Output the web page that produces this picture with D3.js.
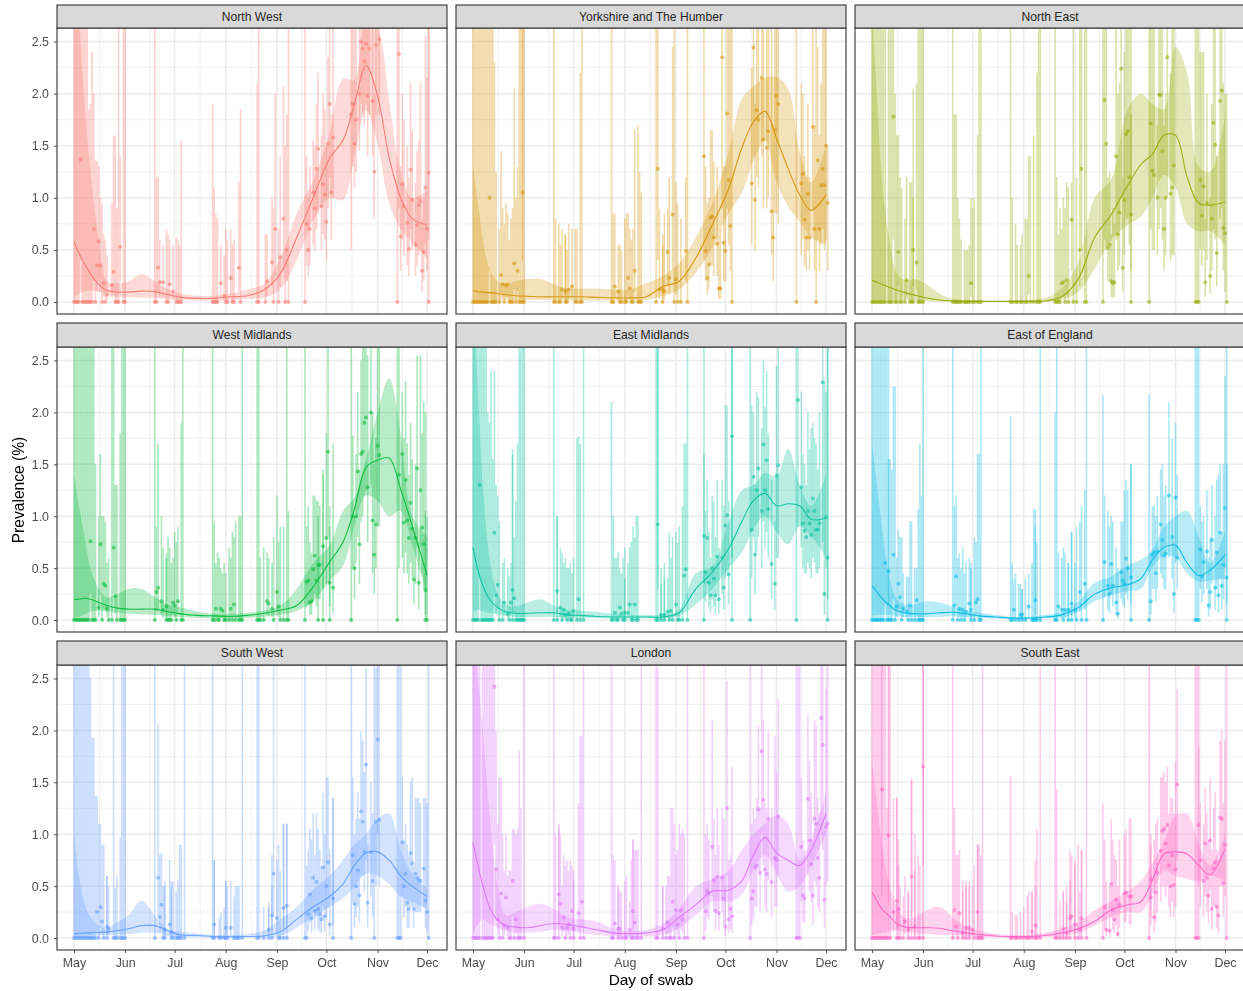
<!DOCTYPE html>
<html><head><meta charset="utf-8">
<script src="https://cdn.jsdelivr.net/npm/d3@7"></script>
<style>html,body{margin:0;background:#fff}svg{display:block;font-family:"Liberation Sans",Arial,sans-serif;filter:blur(.35px)}</style>
</head><body><svg id="c" width="1243" height="991"></svg>
<script>
const regionNames=["North West","Yorkshire and The Humber","North East","West Midlands","East Midlands","East of England","South West","London","South East"];
const regionColors=["#F8766D","#D39200","#93AA00","#00BA38","#00C19F","#00B9E3","#619CFF","#DB72FB","#FF61C3"];
const monthDays=[0,31,61,92,123,153,184,214];
const monthLabels=["May","Jun","Jul","Aug","Sep","Oct","Nov","Dec"];
const minorDays=[15.5,46,76.5,107.5,138,168.5,199];
const yTicks=[0,0.5,1,1.5,2,2.5];
const yMinor=[0.25,0.75,1.25,1.75,2.25];
const knotDays=[0,3,6,10,15,20,26,33,41,49,57,65,75,85,95,105,115,125,135,145,155,163,170,177,184,191,198,205,214];

const nwMean=[.58,.47,.38,.27,.17,.11,.095,.095,.105,.1,.07,.045,.035,.035,.05,.06,.115,.27,.62,1,1.38,1.55,1.9,2.27,1.98,1.39,1,.8,.74];
const nwUp=[3.2,2.7,2,1.25,.6,.2,.18,.2,.27,.2,.12,.08,.06,.06,.08,.12,.17,.42,.85,1.17,1.62,2.14,2.13,2.7,2.62,1.94,1.25,1,1.07];
const nwLow=[.05,.08,.1,.11,.1,.07,.05,.045,.04,.04,.025,.02,.015,.015,.02,.03,.04,.12,.4,.78,1,.98,1.4,1.84,1.52,.95,.7,.57,.42];
const yhMean=[.11,.1,.095,.09,.08,.07,.06,.055,.05,.05,.05,.05,.045,.04,.04,.05,.15,.2,.42,.74,1.09,1.48,1.73,1.83,1.57,1.28,1.03,.88,1.03];
const yhUp=[1.3,.95,.6,.32,.2,.17,.2,.22,.22,.17,.13,.13,.13,.12,.12,.18,.25,.37,.62,.95,1.44,1.95,2.07,2.15,2.16,2.05,1.45,1.15,1.5];
const yhLow=[.02,.02,.02,.02,.02,.02,.02,.02,.02,.02,.015,.015,.015,.015,.015,.02,.06,.12,.28,.52,.85,1.05,1.35,1.55,1.15,.92,.77,.62,.55];
const neMean=[.21,.19,.17,.145,.115,.09,.065,.04,.02,.01,.005,.005,.005,.005,.005,.01,.05,.22,.62,.84,1.12,1.32,1.42,1.6,1.6,1.2,.95,.93,.96];
const neUp=[2.8,2,1.2,.65,.28,.21,.22,.17,.08,.03,.02,.02,.02,.02,.02,.04,.13,.38,1,1.18,1.85,2,1.9,1.85,2.45,2.2,1.3,1.25,1.8];
const neLow=[.02,.02,.02,.02,.02,.02,.015,.01,.005,.002,.002,.002,.002,.002,.002,.003,.02,.1,.32,.6,.74,.82,1,1.22,1.1,.75,.68,.68,.55];
const wmMean=[.2,.2,.21,.2,.17,.14,.115,.105,.105,.105,.08,.06,.045,.04,.035,.045,.065,.095,.14,.32,.56,.75,1.07,1.47,1.54,1.56,1.26,.91,.43];
const wmUp=[1.4,1.1,.85,.5,.3,.22,.25,.3,.3,.22,.15,.12,.08,.06,.06,.07,.09,.14,.3,.55,.72,1.05,1.18,1.55,2,2.33,1.8,1,.8];
const wmLow=[.02,.03,.05,.08,.09,.08,.07,.06,.055,.05,.04,.03,.02,.015,.015,.02,.03,.05,.09,.18,.38,.52,.9,1.2,1.15,1,1.05,.72,.25];
const emMean=[.7,.48,.33,.2,.12,.08,.065,.065,.07,.07,.05,.045,.035,.03,.03,.03,.03,.07,.3,.46,.69,.95,1.15,1.22,1.1,1.12,1.1,.97,.98];
const emUp=[3.2,2.2,1.3,.6,.25,.15,.13,.17,.2,.14,.1,.09,.08,.06,.05,.05,.05,.1,.45,.51,.95,1.25,1.3,1.42,1.38,1.65,1.3,1.1,1.4];
const emLow=[.08,.1,.08,.07,.05,.04,.03,.03,.03,.03,.02,.02,.02,.015,.015,.015,.015,.04,.15,.3,.5,.65,.88,1,.85,.73,.9,.81,.6];
const eeMean=[.33,.27,.21,.15,.09,.07,.06,.06,.07,.075,.06,.04,.03,.02,.02,.03,.05,.12,.25,.31,.34,.4,.58,.7,.72,.55,.43,.48,.63];
const eeUp=[1.7,1.3,.9,.45,.2,.15,.15,.18,.17,.13,.09,.07,.05,.03,.03,.05,.08,.18,.36,.42,.53,.58,.68,.9,1,1.05,.8,.55,.85];
const eeLow=[.04,.05,.05,.05,.04,.03,.03,.03,.03,.04,.03,.02,.015,.01,.01,.015,.02,.08,.18,.24,.28,.3,.51,.62,.6,.45,.37,.38,.4];
const swMean=[.04,.045,.05,.05,.055,.06,.07,.09,.12,.12,.07,.03,.025,.015,.012,.015,.02,.06,.18,.3,.4,.52,.7,.82,.83,.75,.6,.5,.4];
const swUp=[1,.6,.35,.2,.12,.1,.15,.22,.36,.22,.08,.06,.045,.03,.03,.04,.07,.18,.3,.47,.6,.75,.9,1,1.15,1.2,.85,.62,.48];
const swLow=[.01,.012,.015,.02,.025,.03,.035,.04,.05,.05,.02,.01,.008,.005,.004,.005,.01,.02,.1,.2,.3,.38,.5,.62,.6,.52,.4,.35,.28];
const lnMean=[.92,.7,.5,.3,.17,.12,.105,.1,.12,.14,.13,.11,.08,.05,.04,.05,.08,.2,.32,.45,.46,.55,.8,.97,.82,.75,.7,.85,1.2];
const lnUp=[2.9,2.5,2,1.2,.5,.22,.25,.3,.33,.28,.2,.18,.16,.09,.07,.08,.14,.28,.5,.57,.65,.85,1,1.1,1.18,1.1,.75,.95,1.4];
const lnLow=[.05,.13,.18,.14,.1,.07,.05,.05,.06,.08,.07,.05,.03,.02,.01,.015,.03,.1,.22,.35,.35,.42,.65,.8,.62,.45,.5,.7,1];
const seMean=[.44,.36,.28,.22,.14,.105,.1,.1,.095,.07,.05,.035,.02,.015,.015,.025,.05,.09,.16,.27,.32,.35,.56,.81,.83,.81,.7,.61,.86];
const seUp=[1.7,1.3,.9,.55,.3,.2,.2,.27,.3,.2,.11,.07,.04,.03,.03,.05,.09,.15,.27,.36,.45,.55,.72,.93,1.18,1.2,.9,.7,1];
const seLow=[.03,.04,.05,.06,.07,.06,.05,.04,.03,.03,.02,.01,.005,.005,.005,.01,.02,.05,.12,.2,.25,.25,.42,.65,.6,.57,.55,.6,.55];

// zero-prevalence days: [day, upper]; 3 runs off the top of the panel
const nwZero=[[0,3],[1,3],[2,3],[3,3],[5,3],[6,3],[7,3],[8,3],[9,1.85],[10,1.9],[11,2.4],[13,1.36],[17,.95],[19,.6],[25,1.6],[26,.9],[27,3],[30,3],[31,3],[49,3],[50,1.2],[56,.7],[57,.65],[62,.62],[63,.6],[64,.55],[65,1.55],[84,1.9],[85,1.1],[86,.85],[87,.8],[92,.7],[93,.6],[96,.55],[97,.6],[101,1.85],[111,2.1],[112,3],[116,.65],[121,.9],[124,.7],[128,1.5],[130,3],[140,3],[196,3],[215,3]];
const nwPos=[[4,1.37,.4,3],[12,.7,.2,2],[14,.35,.1,1.35],[15,.58,.2,1.3],[16,.35,.1,1],[18,.18,.05,.65],[20,.07,.02,.45],[23,.16,.04,.95],[24,.29,.08,1.6],[28,.53,.2,1.4],[51,.33,.1,1.2],[52,.19,.05,.6],[54,.19,.05,.55],[58,.17,.05,.6],[60,.1,.03,.55],[89,.18,.05,.55],[91,.06,.01,.45],[95,.23,.07,.7],[100,.33,.1,1.15],[117,.2,.06,.65],[120,.38,.15,1],[122,.7,.25,2],[125,.43,.15,1.4],[127,.8,.3,2.07],[129,.5,.2,1.8],[141,.75,.35,1.4],[142,.5,.25,1],[143,.7,.35,1.3],[145,1.05,.55,1.55],[146,.9,.5,1.5],[147,1.28,.7,1.9],[148,1.47,.85,2.2],[150,.92,.5,1.6],[151,1.13,.65,2],[152,1.03,.6,1.85],[153,.77,.4,1.5],[154,1.52,.9,2.35],[155,1.9,1.2,3],[156,1.05,.6,1.8],[157,1.58,1,3],[168,1.8,.5,3],[169,1.9,1.3,3],[170,1.52,1.1,2.7],[171,1.75,1.25,3],[173,2,1.45,3],[174,2.5,1.9,3],[175,2.43,1.8,3],[176,2.31,1.7,3],[177,2.48,1.9,3],[178,1.98,1.4,3],[179,2.43,1.8,3],[181,1.93,1.4,3],[182,1.25,.8,2],[183,2.47,1.8,3],[185,2.52,1.8,3],[197,2.38,.9,3],[198,.63,.3,1.3],[199,1.13,.6,2],[200,.92,.45,1.75],[202,.76,.35,1.5],[203,.51,.25,1.2],[204,1.27,.7,2.1],[205,.98,.5,1.65],[207,.55,.25,1.15],[208,.74,.35,1.45],[209,.93,.45,1.55],[210,.97,.5,2.1],[211,.3,.1,.8],[212,.48,.2,1],[213,1.1,.55,2.55],[214,.7,.3,2.15],[215,1.24,.6,3]];
const yhZero=[[0,3],[1,3],[2,3],[3,3],[4,3],[5,3],[6,3],[7,3],[8,3],[9,3],[11,3],[12,3],[13,2.3],[14,1.25],[16,.7],[19,.75],[22,.6],[23,.8],[24,.9],[26,1],[28,3],[29,3],[30,3],[31,3],[49,3],[50,.8],[52,.75],[53,.55],[56,.65],[57,.5],[62,.7],[63,.7],[65,2.2],[66,3],[84,3],[85,.85],[89,.55],[90,.5],[92,.8],[93,.85],[96,.6],[97,.7],[100,1.7],[101,1.25],[102,1.05],[111,3],[115,.65],[122,3],[124,.95],[126,.8],[130,3],[157,3],[196,3],[208,3]];
const yhPos=[[10,1,.3,3],[17,.26,.08,1.45],[18,.17,.05,.9],[20,.16,.05,.95],[21,.17,.05,.85],[25,.37,.12,2.05],[27,.3,.1,1.3],[30,1.05,.4,3],[54,.12,.03,.7],[56,.1,.03,.65],[58,.12,.03,.75],[60,.15,.04,.7],[86,.15,.04,.85],[88,.1,.02,.55],[94,.23,.06,.85],[95,.13,.03,.7],[98,.3,.1,1.65],[112,1.28,.4,3],[113,.12,.03,.9],[115,.12,.03,.55],[116,.1,.02,.85],[118,.48,.15,.9],[119,.23,.07,1.2],[121,.84,.3,2.45],[123,.22,.07,1.15],[129,.49,.2,1.2],[140,1.4,.4,3],[141,.49,.2,1.3],[142,.23,.07,.95],[143,.36,.12,1],[144,.81,.35,1.65],[145,.82,.35,1.65],[146,.62,.25,1.35],[148,.56,.25,1.3],[149,.13,.03,.65],[150,.13,.03,.7],[151,2.35,.9,3],[152,.57,.2,1.3],[153,.49,.2,1.3],[154,1.81,.9,3],[155,1.17,.55,3],[156,.73,.3,3],[169,1.14,.55,2.25],[170,2.44,1.4,3],[171,.98,.5,1.9],[172,1.84,1.2,3],[173,1.75,1.1,3],[175,2.15,1.4,3],[176,1.56,.9,3],[178,1.48,.9,3],[179,1.64,1,3],[181,.87,.45,2.7],[182,.62,.2,1.7],[183,1.65,.85,3],[184,1.98,.85,3],[185,1.9,.75,3],[199,1.14,.45,2.1],[200,1.23,.6,2],[201,.79,.35,1.4],[202,.62,.3,1.2],[203,1.04,.5,1.9],[204,.62,.3,1.2],[206,1.68,.9,3],[207,.7,.3,1.7],[209,1.36,.6,2.45],[210,.7,.3,1.6],[211,1.12,.55,2.1],[212,1.28,.7,3],[213,1.12,.5,3],[214,1.5,.6,3],[215,.95,.3,1.5]];
const neZero=[[0,3],[1,3],[2,3],[3,3],[4,3],[5,3],[6,3],[7,3],[8,3],[10,3],[11,3],[12,3],[14,2],[15,1.6],[17,1.2],[18,1.1],[20,.8],[23,1.15],[24,1.15],[25,2.05],[28,3],[29,3],[30,3],[31,3],[49,3],[50,1.8],[51,1.8],[52,1],[53,.8],[54,.6],[56,.5],[57,.5],[58,.5],[59,.55],[61,.9],[62,1],[64,1.6],[65,3],[66,3],[84,3],[85,1],[87,.75],[88,.55],[90,.55],[91,.65],[93,.8],[94,.8],[96,1.4],[98,1.6],[100,2.2],[101,3],[102,3],[111,3],[112,1.2],[113,.65],[114,.9],[117,.9],[119,1.1],[122,3],[124,1.2],[129,3],[130,3],[140,3],[157,3],[168,3],[196,3],[197,3],[198,3],[215,2]];
const nePos=[[13,1.78,.6,3],[16,.48,.15,1.6],[21,.21,.05,1.2],[25,.5,.15,1],[27,.38,.12,2.1],[60,.18,.05,1],[95,.25,.07,1.4],[115,.18,.05,.7],[116,.19,.05,1],[118,.21,.06,1.15],[121,.79,.3,1.15],[126,.5,.15,2.8],[127,1.28,.5,3],[141,1.94,.6,3],[142,1.52,.5,3],[143,.52,.2,1.2],[144,.55,.2,1.25],[145,.2,.05,.65],[146,.18,.04,.9],[147,.19,.05,.75],[148,1.4,.6,3],[149,.65,.3,2],[150,.86,.35,2.1],[151,2.24,1,3],[152,.33,.1,1.2],[153,.98,.45,2.4],[154,1.61,.8,3],[155,1.64,.8,3],[156,1.2,.55,3],[157,.84,.3,1.8],[169,1.71,.7,3],[170,1.26,.5,3],[171,1.22,.5,3],[173,1,.45,1.7],[174,1.99,.7,3],[175,1.99,.9,3],[176,1.45,.6,2.8],[177,.7,.3,1.7],[178,1,.45,2],[179,2.35,1,3],[181,1.04,.4,2.2],[182,1.1,.45,3],[183,1.31,.45,3],[199,1.17,.5,2.4],[200,.83,.35,2.4],[201,1.11,.5,2.4],[202,.19,.05,.8],[203,.95,.4,2],[205,.25,.08,1],[206,.8,.3,1.9],[207,1.72,.7,3],[208,1.51,.6,3],[209,.47,.15,1.4],[211,1.93,.8,3],[212,2.03,.9,3],[213,.71,.3,2.1],[214,.66,.1,2]];
const wmZero=[[0,3],[1,3],[2,3],[3,3],[4,3],[5,3],[6,3],[7,3],[8,3],[9,3],[11,3],[12,3],[13,1.5],[17,1],[21,.6],[23,2.65],[26,1.3],[28,1.8],[29,3],[30,3],[31,3],[49,3],[56,.65],[57,.8],[58,.7],[59,.55],[62,.75],[65,1.9],[66,3],[84,3],[85,.95],[87,.65],[88,.6],[91,.55],[92,.45],[94,.7],[96,.85],[98,.95],[100,1],[101,1],[102,3],[111,3],[112,3],[113,.6],[115,.7],[121,.8],[125,.9],[127,.9],[129,3],[130,1.05],[140,3],[148,1],[151,1.4],[155,1.1],[168,3],[196,3],[213,2],[214,1]];
const wmPos=[[10,.76,.25,3],[15,.12,.03,1],[16,.73,.25,1.6],[18,.35,.1,1],[19,.33,.1,.95],[20,.11,.03,.55],[24,.7,.25,3],[25,.23,.06,1.3],[50,.27,.08,.9],[51,.31,.1,1.7],[53,.18,.05,1],[54,.1,.02,.7],[56,.13,.03,.6],[60,.17,.05,.6],[61,.14,.03,.85],[63,.18,.05,.9],[86,.11,.02,.55],[89,.11,.02,.5],[90,.09,.02,.45],[95,.11,.02,.6],[97,.15,.04,.8],[117,.18,.05,.65],[118,.16,.04,.6],[120,.11,.03,.55],[123,.27,.08,1.2],[124,.13,.03,.75],[141,.37,.12,.9],[142,.38,.14,1.1],[143,.17,.05,.75],[144,.18,.05,.65],[145,.49,.18,1.2],[146,.62,.25,1.2],[147,.38,.13,1.15],[148,.53,.2,1.15],[149,.53,.2,1.1],[151,.71,.3,1.45],[153,.79,.35,1.8],[154,1.62,.8,3],[155,.36,.13,.9],[157,.31,.07,1.7],[169,1,.5,1.78],[170,.5,.2,1],[171,1,.55,1.6],[172,1.43,.8,2.2],[173,.73,.35,1.45],[174,1.6,.95,2.5],[175,1.62,1,3],[176,1.9,1.2,3],[177,1.95,1.25,3],[178,1.28,.75,2.55],[180,2,1.3,3],[181,.96,.45,2],[182,.63,.25,1.5],[183,.92,.5,1.75],[184,1.68,.9,3],[185,1.59,.9,3],[197,1.4,.5,3],[199,1.6,.6,2.2],[200,.94,.45,1.75],[201,1.35,.65,2.3],[202,.96,.45,1.7],[203,.79,.35,1.4],[204,1.13,.55,1.9],[205,.88,.4,1.55],[206,.39,.15,.85],[207,.79,.35,1.5],[208,1.46,.7,2.55],[209,.36,.1,.75],[210,1.25,.7,2.55],[211,.89,.45,1.8],[212,.73,.3,2.1],[213,.29,.05,1.05]];
const emZero=[[0,3],[1,3],[2,3],[3,3],[5,3],[6,3],[7,3],[8,3],[9,2],[10,1.9],[11,2.4],[12,1.55],[16,.95],[18,.55],[22,.42],[24,1.65],[26,1.15],[27,1.7],[28,3],[29,3],[30,3],[31,3],[49,3],[51,1],[54,.65],[57,.5],[59,.55],[60,.45],[63,1.75],[65,1.7],[67,3],[84,2.1],[85,1],[87,.6],[88,.65],[91,.6],[92,.7],[96,.75],[97,.9],[99,1],[100,1],[111,3],[112,3],[114,.5],[116,.55],[119,.85],[121,.8],[124,.75],[125,.9],[127,1.1],[130,3],[140,3],[157,3],[168,3],[196,3],[215,3]];
const emPos=[[4,1.3,.4,3],[13,.84,.25,2.4],[14,.24,.06,1.3],[15,.34,.1,1.2],[19,.17,.05,.6],[21,.06,.01,.5],[23,.17,.05,.55],[24,.29,.08,1.6],[25,.21,.06,.8],[51,.28,.08,1],[53,.12,.03,.7],[55,.1,.02,.55],[56,.05,.01,.6],[58,.06,.01,.5],[61,.09,.02,.6],[64,.2,.06,1.77],[86,.07,.01,.6],[89,.12,.03,.5],[90,.06,.01,.45],[92,.07,.02,.4],[94,.07,.02,.55],[95,.15,.04,.7],[98,.15,.04,.8],[112,.92,.3,3],[114,.05,.01,.35],[116,.05,.01,.4],[118,.08,.02,.4],[120,.09,.02,.6],[123,.15,.04,.85],[128,.43,.15,1.7],[129,.49,.2,1.7],[141,.46,.18,1.05],[140,.81,.35,1.6],[142,.79,.35,1.35],[143,.36,.12,.85],[144,.24,.07,.6],[145,.5,.2,1.2],[146,.4,.13,1.15],[147,.24,.06,.8],[148,.61,.25,1.35],[149,.2,.06,.7],[151,.6,.25,1.35],[152,.31,.1,1.1],[153,.91,.4,2.07],[154,1.01,.45,2.07],[155,.44,.15,1.15],[157,1.77,.6,3],[169,.87,.4,2.07],[170,1.38,.8,2],[171,.63,.25,1.3],[172,1.25,.65,2.2],[173,1.46,.8,2.15],[175,1.05,.5,1.85],[176,1.69,.95,2.5],[177,1.25,.7,2.05],[178,1.54,.85,2.4],[179,1.07,.6,1.8],[181,.54,.2,1.35],[183,.35,.1,.95],[184,1.39,.6,2.45],[185,1.49,.6,3],[197,2.12,.9,3],[199,1.28,.7,2.2],[200,.93,.5,1.6],[201,.86,.45,1.5],[202,.8,.45,1.3],[203,1.05,.55,2],[204,.93,.5,1.65],[205,.82,.4,1.85],[206,1.17,.6,1.9],[207,1.05,.55,1.75],[208,.87,.45,1.7],[209,.87,.45,1.45],[210,.93,.5,2],[212,2.29,.75,3],[213,.25,.05,2.3],[214,.99,.5,2.2],[215,.6,.2,3]];
const eeZero=[[0,3],[1,3],[2,3],[3,3],[4,3],[5,3],[6,3],[7,3],[9,3],[10,3],[11,1.55],[12,1.45],[14,2.25],[18,.8],[22,.42],[24,.95],[26,.5],[28,1.07],[29,1.7],[30,1.2],[31,3],[49,3],[52,.6],[54,.5],[56,.45],[60,.55],[62,.8],[65,1.6],[66,3],[84,1.97],[85,.55],[87,.45],[89,.35],[91,.3],[93,.4],[97,.55],[98,1.07],[99,.9],[100,.75],[102,3],[111,2],[112,3],[116,.7],[119,.55],[121,.85],[124,.9],[127,1.1],[130,3],[140,2.17],[157,1.5],[168,2.17],[196,3],[197,3],[198,3],[215,3]];
const eePos=[[8,.55,.15,3],[10,.47,.15,1.55],[13,.63,.2,2.25],[15,.13,.03,.6],[16,.35,.1,.87],[17,.22,.05,.8],[19,.11,.03,.45],[21,.08,.02,.42],[23,.14,.03,.95],[27,.19,.05,.5],[50,.14,.03,1.1],[51,.42,.13,1.2],[53,.11,.03,.65],[55,.1,.02,.7],[57,.08,.02,.55],[59,.16,.04,.6],[60,.1,.02,.5],[63,.17,.04,.75],[64,.2,.06,1.6],[86,.1,.02,.4],[90,.05,.01,.35],[91,.05,.01,.3],[95,.13,.03,.45],[99,.19,.05,1.07],[113,.13,.03,.65],[115,.1,.02,.6],[117,.1,.02,.65],[119,.1,.02,.55],[121,.16,.04,.85],[123,.1,.02,.55],[126,.27,.08,.95],[129,.35,.1,1.25],[141,.56,.22,1.2],[143,.33,.1,1.05],[144,.25,.07,.9],[145,.54,.25,1],[146,.33,.13,.95],[148,.17,.05,.7],[149,.06,.01,.5],[151,.46,.2,.95],[152,.38,.15,.95],[153,.35,.12,1.25],[154,.59,.25,1.35],[155,.5,.2,1.25],[157,.41,.15,1.5],[169,.18,.05,.65],[170,.63,.3,1.1],[171,.65,.3,1.1],[172,.45,.18,1],[173,.66,.3,1.2],[175,.92,.45,1.45],[176,.77,.4,1.5],[177,.62,.3,1.2],[178,.64,.3,1.3],[180,1.2,.6,2.1],[182,.8,.4,1.75],[183,.25,.07,.75],[184,1.18,.55,1.9],[185,.6,.3,1.4],[199,.68,.3,1.1],[200,.42,.17,.95],[201,.56,.25,1],[203,.66,.3,1.25],[204,.14,.03,.6],[205,.27,.1,.8],[206,.77,.35,1.3],[208,.31,.1,1],[209,.65,.3,1.35],[210,.24,.07,1.4],[211,.84,.4,1.5],[212,.33,.1,.85],[213,.53,.2,1.5],[214,1.08,.5,2.35],[215,.41,.15,1.5]];
const swZero=[[0,3],[1,3],[2,3],[3,3],[4,3],[5,3],[6,3],[7,3],[8,3],[9,3],[10,2.5],[11,1.93],[12,1.93],[13,1.37],[15,1.1],[18,.9],[20,.6],[24,3],[25,.48],[26,.6],[28,.97],[29,3],[30,3],[31,3],[49,3],[54,.5],[55,.5],[59,.55],[60,.55],[62,.45],[63,.55],[64,.9],[65,.9],[67,3],[84,3],[85,.75],[88,.2],[89,.25],[91,.3],[92,.55],[93,.5],[97,.4],[98,.5],[99,.5],[100,.5],[102,3],[111,3],[112,3],[115,.3],[118,.3],[120,.5],[124,.9],[125,.65],[127,1.1],[129,1.1],[140,3],[141,.7],[157,1.35],[168,3],[182,3],[196,3],[197,3],[198,3],[215,3]];
const swPos=[[14,.25,.07,1.37],[16,.3,.1,1.1],[17,.16,.04,.9],[20,.11,.03,.6],[21,.09,.02,.5],[51,.58,.2,2.07],[52,.2,.06,.8],[53,.32,.1,.82],[55,.08,.02,.55],[58,.13,.03,.75],[59,.06,.01,.5],[85,.13,.03,.75],[92,.1,.03,.55],[95,.1,.03,.55],[118,.08,.02,.35],[120,.22,.07,.8],[121,.62,.2,3],[123,.19,.05,.75],[127,.29,.08,1.1],[129,.31,.1,1.1],[142,.23,.07,.85],[143,.42,.15,1.05],[144,.19,.05,.95],[145,.58,.25,1.2],[146,.26,.08,.8],[147,.54,.2,1.2],[148,.28,.08,1.05],[149,.23,.06,.85],[150,.18,.05,.7],[151,.68,.3,1.4],[152,.21,.06,1],[153,.5,.2,1.55],[154,.73,.3,1.55],[155,.13,.03,.85],[157,.38,.12,1.35],[169,.8,.35,1.55],[170,.33,.1,1],[171,.5,.2,1.15],[172,.65,.3,1.4],[173,.41,.15,1.15],[174,1.22,.6,2],[175,1.12,.6,1.9],[176,.83,.45,1.6],[177,1.67,.75,2.6],[178,.34,.1,.9],[180,.83,.4,1.5],[181,.55,.2,1.2],[183,1.12,.5,2.6],[184,1.91,1,3],[185,1.14,.5,3],[199,.92,.4,1.55],[200,.5,.2,.95],[201,.62,.3,1.1],[202,.34,.1,.9],[203,.28,.1,.8],[204,.82,.3,1.5],[205,.72,.3,1.55],[206,.28,.1,.7],[207,.62,.25,1.35],[208,.58,.25,1.35],[209,.56,.25,1.35],[210,.55,.25,1.3],[212,.67,.3,1.35],[213,.36,.1,1.35],[214,.25,.05,1.3]];
const lnZero=[[0,3],[1,3],[2,3],[3,3],[4,3],[6,3],[7,3],[8,3],[9,3],[10,3],[11,3],[12,3],[16,1.55],[18,1],[22,.65],[23,.65],[25,1.05],[27,1.05],[28,1.8],[29,1.25],[31,3],[49,3],[50,1],[52,1.1],[56,.7],[59,.75],[61,.65],[65,1.95],[67,3],[84,3],[85,.8],[88,.5],[90,.45],[92,.55],[93,.6],[96,.75],[97,.95],[99,.85],[100,.85],[102,3],[111,3],[112,2.6],[115,.5],[117,.5],[119,.6],[120,1.25],[122,1.1],[125,1.1],[128,1],[130,3],[140,3],[168,3],[196,3],[197,3],[198,3]];
const lnPos=[[13,2.42,.9,3],[14,.66,.2,2],[15,.18,.04,1.1],[17,.43,.13,1.55],[19,.12,.03,.65],[20,.39,.13,1],[21,.1,.02,.6],[24,.55,.2,1.05],[26,.18,.05,1],[52,.42,.13,1.07],[53,.33,.1,1],[54,.1,.02,.5],[55,.2,.06,.8],[57,.1,.02,.75],[58,.13,.03,.65],[60,.26,.08,.7],[61,.09,.02,.55],[64,.24,.07,1.3],[66,.35,.1,1.95],[86,.14,.03,.75],[88,.09,.02,.5],[89,.09,.02,.45],[95,.08,.02,.35],[97,.26,.08,.95],[98,.15,.04,.85],[115,.09,.02,.5],[118,.15,.04,.6],[121,.35,.1,1.25],[123,.27,.08,.8],[124,.13,.03,.85],[126,.27,.08,1],[127,.18,.05,1.05],[141,.26,.07,1],[142,.45,.2,1.1],[143,.43,.18,.95],[145,.88,.4,2.1],[146,.56,.25,1.15],[147,.26,.08,.8],[148,.59,.25,1.25],[149,.24,.07,.9],[151,.58,.25,1.25],[152,.38,.12,1.15],[153,.11,.02,.5],[154,1.25,.6,2.47],[155,.18,.05,.75],[156,.28,.08,.8],[157,.21,.05,1.65],[169,.38,.12,1.1],[170,.45,.18,1.25],[171,.68,.3,1.15],[172,.7,.3,1.35],[173,1.24,.65,2.05],[174,.63,.25,1.25],[175,1.8,1,3],[176,1.33,.7,2.1],[177,.66,.3,1.3],[178,.62,.25,1.25],[179,1.15,.55,2.0],[181,.54,.2,1.25],[183,.77,.3,1.95],[184,.75,.3,1.6],[185,1.17,.6,2.3],[199,.88,.35,1.55],[200,.41,.15,.95],[201,.38,.15,.85],[203,1.34,.6,2.15],[204,.94,.45,1.7],[205,.71,.35,1.4],[206,.41,.12,.95],[207,1.15,.55,2.1],[208,1.1,.5,2.05],[209,.77,.3,1.35],[210,.58,.25,1.2],[211,2.12,1,3],[212,1.86,.85,3],[213,.37,.1,1.05],[214,1.07,.5,2.4],[215,1.1,.55,2.7]];
const seZero=[[0,3],[1,3],[2,3],[3,3],[4,3],[5,3],[6,3],[7,3],[8,3],[9,1.25],[10,3],[11,3],[15,1.35],[16,.7],[17,.5],[19,.4],[22,.45],[24,1.53],[26,1],[28,.8],[29,.7],[31,3],[49,3],[52,.8],[55,.55],[57,.55],[59,.5],[62,.7],[64,.9],[65,.9],[66,.8],[67,3],[84,1.56],[85,.25],[87,.22],[88,.22],[90,.25],[92,.3],[94,.4],[95,.45],[97,.45],[99,.5],[100,1.05],[102,3],[111,3],[112,1.43],[114,.35],[116,.45],[118,.5],[120,.55],[123,.75],[125,.9],[127,.85],[130,3],[140,1.3],[168,3],[196,3],[197,3],[198,3],[215,3]];
const sePos=[[6,1.43,.4,3],[10,.99,.35,3],[13,.25,.07,1.35],[15,.36,.1,1.35],[16,.28,.08,.95],[20,.16,.04,.6],[22,.08,.02,.45],[24,.59,.2,1.53],[26,.11,.02,.65],[31,1.65,.7,3],[50,.27,.08,1.25],[51,.11,.03,.8],[53,.24,.07,.85],[55,.05,.01,.45],[57,.1,.02,.5],[59,.1,.02,.55],[61,.08,.02,.5],[64,.25,.07,.9],[99,.12,.03,.75],[97,.06,.01,.45],[116,.09,.02,.45],[118,.05,.01,.35],[120,.19,.06,.85],[121,.21,.06,.8],[123,.13,.03,.7],[126,.08,.02,.45],[127,.19,.05,.85],[141,.3,.08,.95],[142,.08,.02,.55],[144,.07,.01,.5],[145,.52,.2,1.15],[146,.27,.08,.95],[147,.18,.05,.8],[148,.37,.12,.75],[149,.04,.01,.5],[150,.32,.1,.95],[153,.43,.15,1],[154,.44,.15,1.05],[156,.4,.13,1.15],[157,.4,.13,1.15],[169,.39,.12,.9],[169,.57,.2,1],[171,.2,.05,.95],[172,.44,.15,1.1],[173,.63,.25,1.15],[175,.84,.35,1.55],[176,1.03,.5,1.55],[177,1.05,.5,1.6],[178,.91,.4,1.5],[179,1.09,.5,1.65],[180,.7,.3,1.2],[181,.5,.2,1.35],[182,.8,.35,1.35],[183,.51,.2,1.2],[184,.66,.3,1.7],[185,1.48,.75,2.4],[198,1.09,.5,1.85],[199,.75,.3,1.3],[201,.55,.2,1.1],[202,.91,.4,1.45],[203,.58,.25,1.2],[204,.41,.15,.95],[205,.94,.45,1.55],[206,.28,.08,.85],[207,.67,.3,1.25],[208,.73,.3,1.4],[209,.3,.1,.85],[210,.22,.05,.75],[211,1.16,.5,1.9],[212,1.15,.5,2],[213,.53,.2,1.3],[214,.9,.4,1.9]];

const allMean=[nwMean,yhMean,neMean,wmMean,emMean,eeMean,swMean,lnMean,seMean];
const allUp=[nwUp,yhUp,neUp,wmUp,emUp,eeUp,swUp,lnUp,seUp];
const allLow=[nwLow,yhLow,neLow,wmLow,emLow,eeLow,swLow,lnLow,seLow];
const allZero=[nwZero,yhZero,neZero,wmZero,emZero,eeZero,swZero,lnZero,seZero];
const allPos=[nwPos,yhPos,nePos,wmPos,emPos,eePos,swPos,lnPos,sePos];

const colLeft=[57,456,855], panelW=390;
const rowTop=[28,347,665], rowH=[286,285,285], stripH=[23,24,24];
const svg=d3.select("#c");
const defs=svg.append("defs");

regionNames.forEach((name,i)=>{
  const col=i%3,row=Math.floor(i/3);
  const L=colLeft[col],T=rowTop[row],H=rowH[row];
  const color=regionColors[i];
  const x=d3.scaleLinear().domain([-10.3,226.1]).range([L,L+panelW]);
  const y=d3.scaleLinear().domain([-0.115,2.63]).range([T+H,T]);
  const clipId="clip"+i;
  defs.append("clipPath").attr("id",clipId).append("rect").attr("x",L).attr("y",T).attr("width",panelW).attr("height",H);
  const g=svg.append("g");
  g.append("rect").attr("x",L).attr("y",T).attr("width",panelW).attr("height",H).attr("fill","#fff");
  // grid
  g.selectAll(".gmy").data(yMinor).join("line").attr("x1",L).attr("x2",L+panelW).attr("y1",y).attr("y2",y).attr("stroke","#f1f1f1").attr("stroke-width",1);
  g.selectAll(".gmx").data(minorDays).join("line").attr("y1",T).attr("y2",T+H).attr("x1",x).attr("x2",x).attr("stroke","#f1f1f1").attr("stroke-width",1);
  g.selectAll(".gy").data(yTicks).join("line").attr("x1",L).attr("x2",L+panelW).attr("y1",y).attr("y2",y).attr("stroke","#ececec").attr("stroke-width",1.5);
  g.selectAll(".gx").data(monthDays).join("line").attr("y1",T).attr("y2",T+H).attr("x1",x).attr("x2",x).attr("stroke","#ececec").attr("stroke-width",1.5);

  const clipG=g.append("g").attr("clip-path",`url(#${clipId})`);
  // ribbon
  const area=d3.area().x((d,j)=>x(knotDays[j])).y0((d,j)=>y(allLow[i][j])).y1(d=>y(d)).curve(d3.curveCatmullRom.alpha(.5));
  clipG.append("path").attr("d",area(allUp[i])).attr("fill",color).attr("fill-opacity",.27);
  // error bars
  const bars=allZero[i].map(d=>({d:d[0],l:0,h:d[1]})).concat(allPos[i].map(d=>({d:d[0],l:d[2],h:d[3]})));
  clipG.selectAll(".b").data(bars).join("line").attr("x1",d=>x(d.d)).attr("x2",d=>x(d.d)).attr("y1",d=>y(d.l)).attr("y2",d=>y(d.h))
    .attr("stroke",color).attr("stroke-opacity",.33).attr("stroke-width",1.6);
  // points
  const pts=allZero[i].map(d=>({d:d[0],p:0})).concat(allPos[i].map(d=>({d:d[0],p:d[1]})));
  clipG.selectAll(".p").data(pts).join("circle").attr("cx",d=>x(d.d)).attr("cy",d=>y(d.p)).attr("r",2)
    .attr("fill",color).attr("fill-opacity",.55);
  // mean
  const line=d3.line().x((d,j)=>x(knotDays[j])).y(d=>y(d)).curve(d3.curveCatmullRom.alpha(.5));
  clipG.append("path").attr("d",line(allMean[i])).attr("fill","none").attr("stroke",color).attr("stroke-width",1.1).attr("stroke-opacity",.9);
  // border and strip
  g.append("rect").attr("x",L).attr("y",T).attr("width",panelW).attr("height",H).attr("fill","none").attr("stroke","#333").attr("stroke-width",1.1);
  g.append("rect").attr("x",L).attr("y",T-stripH[row]).attr("width",panelW).attr("height",stripH[row]).attr("fill","#d9d9d9").attr("stroke","#333").attr("stroke-width",1.1);
  g.append("text").attr("x",L+panelW/2).attr("y",T-stripH[row]/2+4.2).attr("text-anchor","middle").attr("font-size",12.1).attr("fill","#262626").text(name);
  // axes
  if(col===0){
    const ax=svg.append("g").attr("transform",`translate(${L},0)`).call(d3.axisLeft(y).tickValues(yTicks).tickFormat(d3.format(".1f")).tickSize(3).tickPadding(5));
    ax.select(".domain").remove();
    ax.selectAll("line").attr("stroke","#4d4d4d");
    ax.selectAll("text").attr("fill","#4d4d4d").attr("font-size",12.4).attr("font-family","Liberation Sans");
  }
  if(row===2){
    const ax=svg.append("g").attr("transform",`translate(0,${T+H})`).call(d3.axisBottom(x).tickValues(monthDays).tickFormat((d,j)=>monthLabels[j]).tickSize(3).tickPadding(5));
    ax.select(".domain").remove();
    ax.selectAll("line").attr("stroke","#4d4d4d");
    ax.selectAll("text").attr("fill","#4d4d4d").attr("font-size",12.4).attr("font-family","Liberation Sans");
  }
});
svg.append("text").attr("x",651).attr("y",985).attr("text-anchor","middle").attr("font-size",15.4).attr("fill","#000").text("Day of swab");
svg.append("text").attr("transform","translate(24,490) rotate(-90)").attr("text-anchor","middle").attr("font-size",15.6).attr("fill","#000").text("Prevalence (%)");
</script></body></html>
